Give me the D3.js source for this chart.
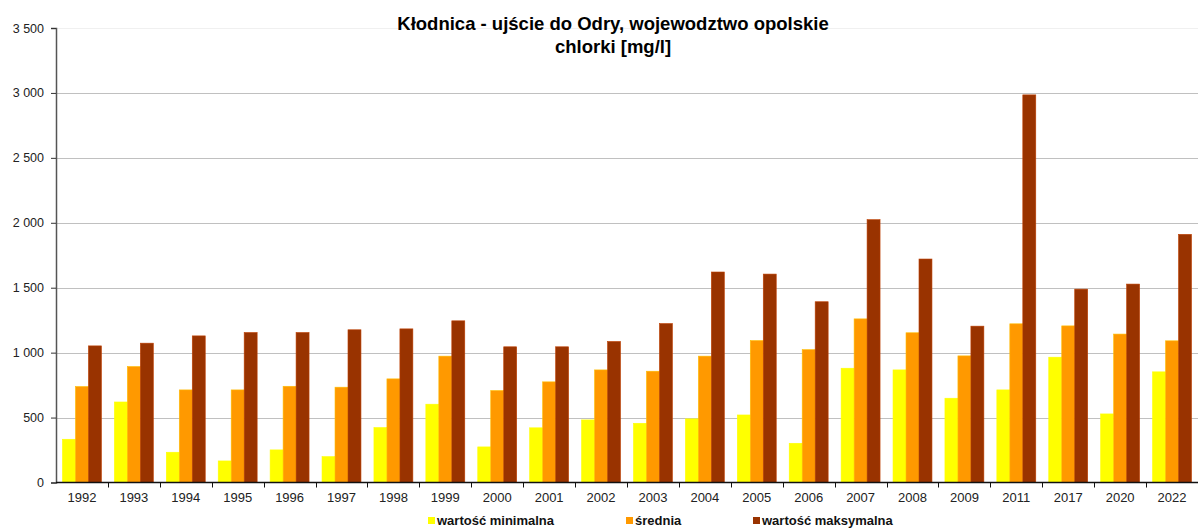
<!DOCTYPE html>
<html>
<head>
<meta charset="utf-8">
<script src="https://cdn.jsdelivr.net/npm/d3@7"></script>
<style>
  html, body { margin: 0; padding: 0; background: #fff; }
  svg { display: block; font-family: "Liberation Sans", Arial, sans-serif; }
</style>
</head>
<body>
<div id="chart"></div>
<script>
// ---- data ----
const years = ["1992","1993","1994","1995","1996","1997","1998","1999","2000","2001","2002",
               "2003","2004","2005","2006","2007","2008","2009","2011","2017","2020","2022"];
const minVals = [333, 620, 233, 166, 251, 199, 423, 603, 274, 421, 482,
                 456, 490, 520, 302, 880, 867, 649, 713, 965, 528, 852];
const avgVals = [739, 893, 713, 713, 741, 734, 798, 973, 708, 775, 867,
                 857, 973, 1093, 1023, 1260, 1153, 975, 1222, 1206, 1143, 1091];
const maxVals = [1052, 1073, 1129, 1155, 1155, 1176, 1183, 1245, 1045, 1045, 1086,
                 1224, 1621, 1605, 1392, 2024, 1721, 1204, 2985, 1489, 1528, 1911];
const seriesNames = ["wartość minimalna", "średnia", "wartość maksymalna"];
const seriesColors = ["#ffff00", "#ff9900", "#993300"];
const yTicks = [0, 500, 1000, 1500, 2000, 2500, 3000, 3500];

const W = 1198, H = 528;
const margin = { left: 56, right: 0, top: 28, bottom: 45 };

const svg = d3.select("#chart").append("svg")
  .attr("width", W).attr("height", H);

const x = d3.scaleBand().domain(years)
  .range([margin.left, W - margin.right]);
const xs = d3.scaleBand().domain(d3.range(3))
  .range([0, x.bandwidth()]).paddingOuter(0.5).paddingInner(0);
const y = d3.scaleLinear().domain([0, 3500])
  .range([H - margin.bottom - 0.5, margin.top]);

const fmt = v => d3.format(",")(v).replace(/,/g, " ");

// gridlines
svg.append("g")
  .selectAll("line")
  .data(yTicks.filter(t => t > 0))
  .join("line")
  .attr("x1", margin.left).attr("x2", W)
  .attr("y1", d => Math.round(y(d)) + 0.5).attr("y2", d => Math.round(y(d)) + 0.5)
  .attr("stroke", d => d === 3500 ? "#f0f0f0" : "#c0c0c0")
  .attr("stroke-width", 1);

// bars
const rows = years.map((yr, i) => ({ yr, vals: [minVals[i], avgVals[i], maxVals[i]] }));
svg.append("g")
  .selectAll("g")
  .data(rows)
  .join("g")
  .attr("transform", d => `translate(${x(d.yr)},0)`)
  .selectAll("rect")
  .data(d => d.vals.map((v, k) => ({ v, k })))
  .join("rect")
  .attr("x", d => xs(d.k))
  .attr("width", xs.bandwidth())
  .attr("y", d => y(d.v))
  .attr("height", d => y(0) - y(d.v))
  .attr("fill", d => seriesColors[d.k])
  .attr("stroke", d => d3.color(seriesColors[d.k]).brighter(0.6))
  .attr("stroke-width", 0.6);

// y axis
const yAxis = svg.append("g")
  .attr("transform", `translate(${margin.left},0)`)
  .call(d3.axisLeft(y).tickValues(yTicks).tickFormat(fmt).tickSize(5).tickPadding(7));
yAxis.select(".domain").attr("stroke", "#555").attr("stroke-width", 1.5);
yAxis.selectAll(".tick line").attr("stroke", "#333");
yAxis.selectAll("text").attr("font-size", 12.5).attr("fill", "#222")
  .attr("font-family", "Liberation Sans, Arial, sans-serif");

// x axis
const xAxis = svg.append("g")
  .attr("transform", `translate(0,${y(0)})`)
  .call(d3.axisBottom(x).tickSize(0).tickPadding(10));
xAxis.select(".domain").remove();
xAxis.selectAll("text").attr("font-size", 13).attr("fill", "#222")
  .attr("font-family", "Liberation Sans, Arial, sans-serif");
svg.append("line")
  .attr("x1", margin.left).attr("x2", W)
  .attr("y1", y(0)).attr("y2", y(0))
  .attr("stroke", "#111").attr("stroke-width", 1.5);
svg.append("g")
  .selectAll("line")
  .data(years.slice(1))
  .join("line")
  .attr("x1", d => Math.round(x(d)) + 0.5).attr("x2", d => Math.round(x(d)) + 0.5)
  .attr("y1", y(0)).attr("y2", y(0) + 5)
  .attr("stroke", "#111");

// title
const title = svg.append("text")
  .attr("x", 613).attr("text-anchor", "middle")
  .attr("font-size", 18.5).attr("font-weight", "bold").attr("fill", "#000");
title.append("tspan").attr("x", 613).attr("y", 30)
  .text("Kłodnica - ujście do Odry, wojewodztwo opolskie");
title.append("tspan").attr("x", 613).attr("y", 53)
  .text("chlorki [mg/l]");

// legend
const legendX = [428, 626, 753];
const legend = svg.append("g")
  .selectAll("g")
  .data(seriesNames)
  .join("g")
  .attr("transform", (d, i) => `translate(${legendX[i]},${517})`);
legend.append("rect")
  .attr("width", 7).attr("height", 7)
  .attr("fill", (d, i) => seriesColors[i]);
legend.append("text")
  .attr("x", 9).attr("y", 8)
  .attr("font-size", 13).attr("font-weight", "bold").attr("fill", "#111")
  .text(d => d);
</script>
</body>
</html>
